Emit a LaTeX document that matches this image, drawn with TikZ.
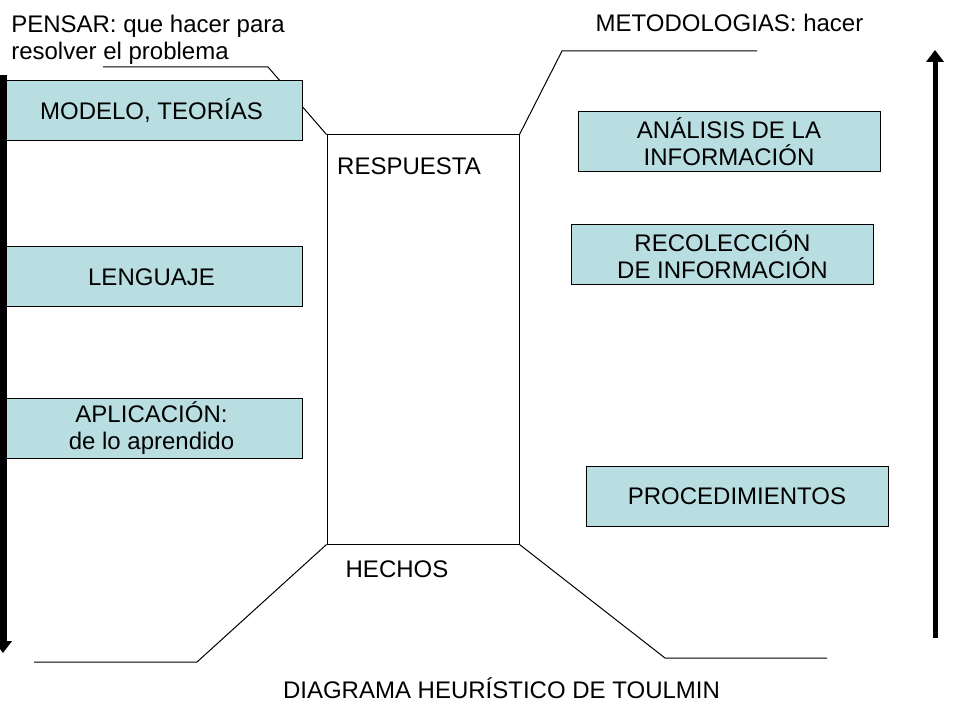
\documentclass[tikz,border=0pt]{standalone}
\usepackage{fontspec}
\setmainfont{Liberation Sans}
\usetikzlibrary{arrows.meta}
\definecolor{celeste}{RGB}{185,222,226}

\tikzset{
	caja/.style={draw=black, fill=celeste, line width=.75pt, minimum width=226.5pt, minimum height=45pt, inner sep=0pt, align=center, font=\fontsize{18}{20.5}\selectfont},
	texto/.style={inner sep=0pt, font=\fontsize{18}{20.5}\selectfont},
	linea/.style={line width=.75pt},
	flecha/.style={line width=3.75pt, -{Triangle[length=9pt, width=13pt]}}
}

\begin{document}
\begin{tikzpicture}[x=.75pt, y=-.75pt]
		\useasboundingbox (0,0) rectangle (960,720);
		
		% Rectangulo central
		\node[draw, linea, minimum width=144pt, minimum height=306.75pt, inner sep=0pt] (resp) at (423,339.5) {};
		\node[texto, anchor=base] (respuesta) at (409,175) {RESPUESTA};
		\node[texto, anchor=base] (hechos) at (397,577) {HECHOS};
		
		% Lineas
		\coordinate (ai1) at (268,67);
		\coordinate (ai2) at (103,67);
		\coordinate (ad1) at (562,51);
		\coordinate (ad2) at (757,51);
		\coordinate (bi1) at (197,662);
		\coordinate (bi2) at (34,662);
		\coordinate (bd1) at (665,658);
		\coordinate (bd2) at (827,658);
		\draw[linea] (resp.north west) -- (ai1) -- (ai2);
		\draw[linea] (resp.north east) -- (ad1) -- (ad2);
		\draw[linea] (resp.south west) -- (bi1) -- (bi2);
		\draw[linea] (resp.south east) -- (bd1) -- (bd2);
		
		% Cajas
		\node[caja] (modelo) at (151.5,110.5) {MODELO, TEORÍAS};
		\node[caja] (lenguaje) at (151.5,277) {LENGUAJE};
		\node[caja] (aplicacion) at (151.5,428) {APLICACIÓN:\\de lo aprendido};
		\node[caja] (analisis) at (729,142) {ANÁLISIS DE LA\\INFORMACIÓN};
		\node[caja] (recoleccion) at (722.5,254.5) {RECOLECCIÓN\\ DE INFORMACIÓN};
		\node[caja] (procedimientos) at (737,496.5) {PROCEDIMIENTOS};
		
		% Textos
		\node[texto, anchor=north west, align=left] (pensar) at (11,14.5) {PENSAR: que hacer para\\resolver el problema};
		\node[texto, anchor=base] (metodologias) at (729.5,32) {METODOLOGIAS: hacer};
		\node[texto, anchor=base] (titulo) at (501.5,698) {DIAGRAMA HEURÍSTICO DE TOULMIN};
		
		% Flechas
		\draw[flecha, line width=5.25pt] (3,75) -- (3,653);
		\draw[flecha] (935,638) -- (935,50);
	\end{tikzpicture}
\end{document}
